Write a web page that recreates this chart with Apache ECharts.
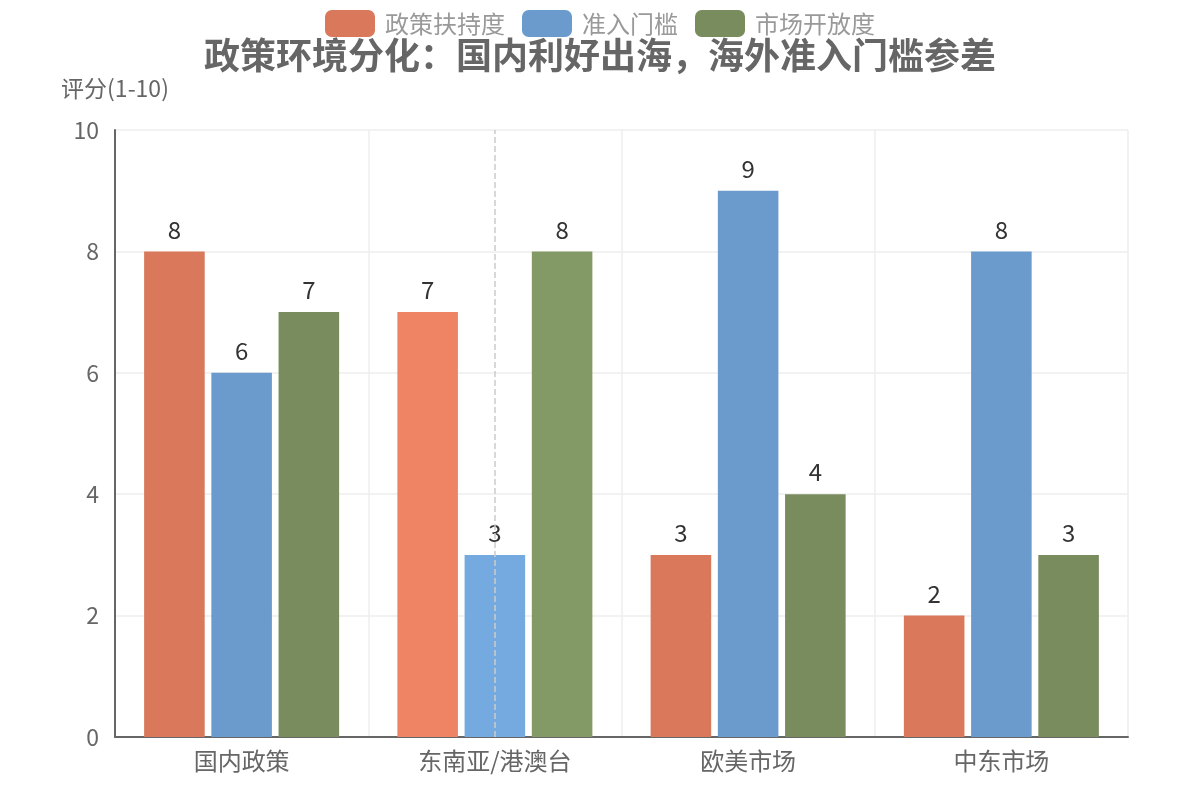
<!DOCTYPE html>
<html>
<head>
<meta charset="utf-8">
<script src="https://cdn.jsdelivr.net/npm/echarts@6/dist/echarts.min.js"></script>
<style>
  html, body { margin: 0; padding: 0; background: #fff; }
  #main { width: 1200px; height: 800px; }
</style>
</head>
<body>
<div id="main"></div>
<script>
var categories = ["国内政策", "东南亚/港澳台", "欧美市场", "中东市场"];
var seriesNames = ["政策扶持度", "准入门槛", "市场开放度"];
var supportData = [8, 7, 3, 2];
var thresholdData = [6, 3, 9, 8];
var opennessData = [7, 8, 4, 3];
var colors = ["#d9785a", "#6a9bcc", "#788c5d"];

var chart = echarts.init(document.getElementById("main"));
var font = "'Noto Sans CJK SC', 'Noto Sans', sans-serif";

function makeBar(name, data, color) {
  return {
    name: name,
    type: "bar",
    data: data,
    barGap: "11%",
    barCategoryGap: "23%",
    itemStyle: { color: color },
    label: {
      show: true,
      position: "top",
      distance: 10,
      color: "#333",
      fontSize: 24,
      fontFamily: font
    }
  };
}

var option = {
  textStyle: { fontFamily: font },
  title: {
    text: "政策环境分化：国内利好出海，海外准入门槛参差",
    left: "center",
    top: 32,
    textStyle: { fontSize: 36, fontWeight: "bold", color: "#666", fontFamily: font }
  },
  legend: {
    top: 5,
    left: "center",
    icon: "roundRect",
    itemWidth: 50,
    itemHeight: 27,
    itemGap: 17,
    textStyle: { fontSize: 24, color: "#999", fontFamily: font, padding: [0, 0, 0, 5] },
    data: seriesNames
  },
  tooltip: {
    trigger: "axis",
    showContent: false,
    axisPointer: {
      type: "line",
      lineStyle: { color: "#ccc", type: "dashed", width: 1.5 }
    }
  },
  grid: { left: 115, right: 72, top: 130, bottom: 63 },
  xAxis: {
    type: "category",
    data: categories,
    axisLine: { lineStyle: { color: "#666", width: 2 } },
    axisTick: { show: false },
    splitLine: { show: true, lineStyle: { color: "#eee", width: 1.5 } },
    axisLabel: { fontSize: 24, color: "#666", margin: 12, fontFamily: font }
  },
  yAxis: {
    type: "value",
    min: 0,
    max: 10,
    interval: 2,
    name: "评分(1-10)",
    nameGap: 30,
    nameTextStyle: { fontSize: 23, color: "#666", fontFamily: font },
    axisLine: { show: true, lineStyle: { color: "#666", width: 2 } },
    axisTick: { show: false },
    splitLine: { lineStyle: { color: "#eee", width: 1.5 } },
    axisLabel: { fontSize: 23, color: "#666", margin: 16, fontFamily: font }
  },
  series: [
    makeBar(seriesNames[0], supportData, colors[0]),
    makeBar(seriesNames[1], thresholdData, colors[1]),
    makeBar(seriesNames[2], opennessData, colors[2])
  ]
};

chart.setOption(option);
chart.dispatchAction({ type: "showTip", seriesIndex: 0, dataIndex: 1 });
</script>
</body>
</html>
